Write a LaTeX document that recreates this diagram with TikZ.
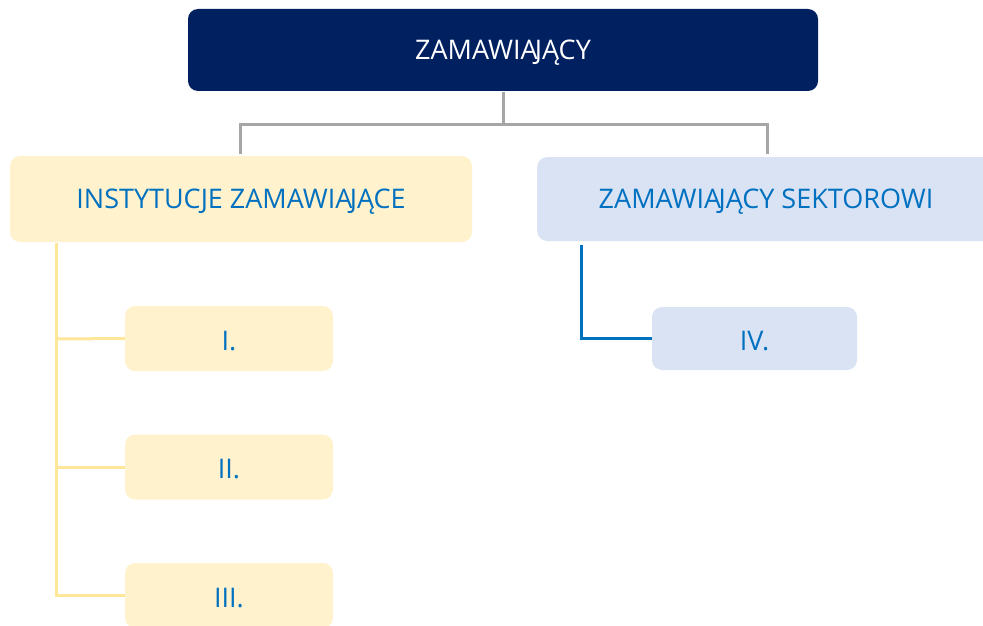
\documentclass[tikz,border=0pt]{standalone}
\usepackage{fontspec}
\setmainfont[Kerning=Off]{Open Sans}
\definecolor{navy}{HTML}{002060}
\definecolor{lyellow}{HTML}{FFF2CC}
\definecolor{lblue}{HTML}{DAE3F3}
\definecolor{tblue}{HTML}{0070C0}
\definecolor{lgray}{HTML}{A6A6A6}
\definecolor{yline}{HTML}{FFE699}
\newcommand\myJ{\kern-0.1em J}
\begin{document}
\begin{tikzpicture}[x=1pt,y=-1pt,
  box/.style={rounded corners=10pt, inner sep=0pt},
  ybox/.style={box, fill=lyellow},
  bbox/.style={box, fill=lblue},
  lbl/.style={text=tblue, font=\fontsize{27}{31}\selectfont, inner sep=0pt},
  gline/.style={draw=lgray, line width=3pt},
  yl/.style={draw=yline, line width=3pt},
  bl/.style={draw=tblue, line width=3pt}]
\useasboundingbox (0,0) rectangle (983,626);
\begin{scope}
\clip (0,0) rectangle (983,626);
\node[box, fill=navy, minimum width=630pt, minimum height=82pt] (top) at (503,50) {};
\node[lbl, text=white] (topt) at (503,52.5) {ZAMAWIA\myJ ĄCY};
\node[ybox, minimum width=462pt, minimum height=86pt] (inst) at (241,199) {};
\node[lbl] (instt) at (241,201.5) {INSTYTUCJE ZAMAWIA\myJ ĄCE};
\node[bbox, minimum width=470pt, minimum height=84pt, anchor=west] (sekt) at (537,199) {};
\node[lbl] (sektt) at (766,201.5) {ZAMAWIA\myJ ĄCY SEKTOROWI};
\node[ybox, minimum width=208pt, minimum height=65pt] (i1) at (229,338.5) {};
\node[ybox, minimum width=208pt, minimum height=65pt] (i2) at (229,467) {};
\node[ybox, minimum width=208pt, minimum height=65pt] (i3) at (229,595.5) {};
\node[bbox, minimum width=205pt, minimum height=63pt] (i4) at (754.5,338.5) {};
\node[lbl] (i1t) at (229,341) {I.};
\node[lbl] (i2t) at (229,469.5) {II.};
\node[lbl] (i3t) at (229,598) {III.};
\node[lbl] (i4t) at (754.5,341) {IV.};
\end{scope}
\coordinate (gl) at (240,124);
\coordinate (gr) at (767,124);
\coordinate (ya) at (56,243);
\coordinate (ba) at (581,245);
\draw[gline] (503,92) -- (503,124);
\draw[gline] (240,154) -- (gl) -- (gr) -- (767,154);
\draw[yl] (ya) |- (i3.west);
\draw[yl] (56,339) -- (i1.west);
\draw[yl] (56,467) -- (i2.west);
\draw[bl] (ba) |- (i4.west);
\end{tikzpicture}
\end{document}
